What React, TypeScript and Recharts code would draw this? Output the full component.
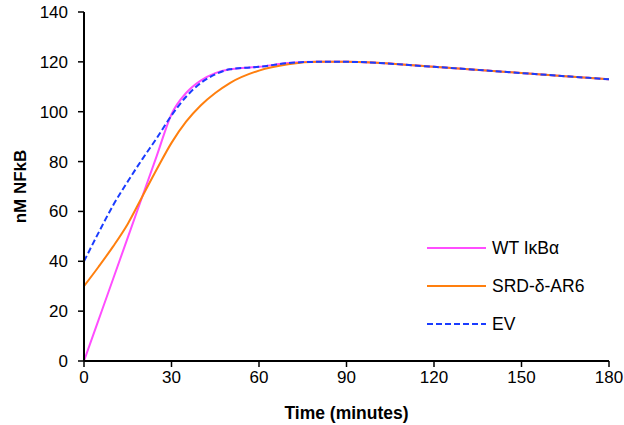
import React from 'react';
import { LineChart, Line, XAxis, YAxis } from 'recharts';

const times = [0, 5, 10, 15, 20, 25, 30, 35, 40, 45, 50, 60, 70, 80, 90, 120, 150, 180];
const wtValues = [0, 16.5, 33, 49.5, 66, 82.5, 99, 107.5, 112.5, 115.5, 117, 118, 119.5, 120, 120, 118, 115.5, 113];
const srdValues = [30, 37.8, 46, 55, 66, 77, 87.5, 96, 102.5, 107.5, 111.5, 116.5, 119, 120, 120, 118, 115.5, 113];
const evValues = [40, 51.5, 62.5, 72, 81, 89.5, 98.5, 106, 111.5, 115, 117, 118, 119.5, 120, 120, 118, 115.5, 113];
const xTicks = [0, 30, 60, 90, 120, 150, 180];
const yTicks = [0, 20, 40, 60, 80, 100, 120, 140];

const seriesNames = ['WT I\u03baB\u03b1', 'SRD-\u03b4-AR6', 'EV'];
const seriesColors = ['#ff4dff', '#ff7f0e', '#1a3cff'];

const chartData = times.map((t, i) => ({
  time: t,
  wt: wtValues[i],
  srd: srdValues[i],
  ev: evValues[i],
}));

const font = '"Liberation Sans", Arial, sans-serif';

// legend sits over the plot area, so keep it outside recharts' layout
const LegendBox = () => (
  <div style={{ position: 'absolute', left: 427, top: 229, fontFamily: font, fontSize: 17.5, color: '#000' }}>
    {seriesNames.map((name, i) => (
      <div key={name} style={{ display: 'flex', alignItems: 'center', height: 38 }}>
        <svg width={59} height={6} style={{ marginRight: 6 }}>
          <line
            x1={0}
            y1={3}
            x2={59}
            y2={3}
            stroke={seriesColors[i]}
            strokeWidth={2}
            strokeDasharray={i === 2 ? '6 3' : undefined}
          />
        </svg>
        <span>{name}</span>
      </div>
    ))}
  </div>
);

export default function App() {
  return (
    <div style={{ position: 'absolute', left: 0, top: 0, width: 624, height: 425, background: '#fff' }}>
      <LineChart width={624} height={425} data={chartData} margin={{ top: 12, right: 15, left: 0, bottom: 0 }}>
        <XAxis
          dataKey="time"
          type="number"
          domain={[0, 180]}
          ticks={xTicks}
          height={64}
          tickSize={6}
          tickMargin={4}
          axisLine={{ stroke: '#000', strokeWidth: 2 }}
          tickLine={{ stroke: '#000', strokeWidth: 1.5 }}
          tick={{ fill: '#000', fontSize: 17, fontFamily: font }}
          label={{ value: 'Time (minutes)', position: 'insideBottom', offset: 6, fill: '#000', fontSize: 17.5, fontWeight: 'bold', fontFamily: font }}
        />
        <YAxis
          type="number"
          domain={[0, 140]}
          ticks={yTicks}
          width={84}
          tickSize={6}
          tickMargin={10}
          axisLine={{ stroke: '#000', strokeWidth: 2 }}
          tickLine={{ stroke: '#000', strokeWidth: 1.5 }}
          tick={{ fill: '#000', fontSize: 17, fontFamily: font }}
          label={{ value: 'nM NFkB', angle: -90, position: 'insideLeft', offset: 20, fill: '#000', fontSize: 17, fontWeight: 'bold', fontFamily: font, style: { textAnchor: 'middle' } }}
        />
        <Line dataKey="wt" name={seriesNames[0]} type="monotone" stroke={seriesColors[0]} strokeWidth={2} dot={false} isAnimationActive={false} />
        <Line dataKey="srd" name={seriesNames[1]} type="monotone" stroke={seriesColors[1]} strokeWidth={2} dot={false} isAnimationActive={false} />
        <Line dataKey="ev" name={seriesNames[2]} type="monotone" stroke={seriesColors[2]} strokeWidth={2} strokeDasharray="6 3" dot={false} isAnimationActive={false} />
      </LineChart>
      <LegendBox />
    </div>
  );
}
